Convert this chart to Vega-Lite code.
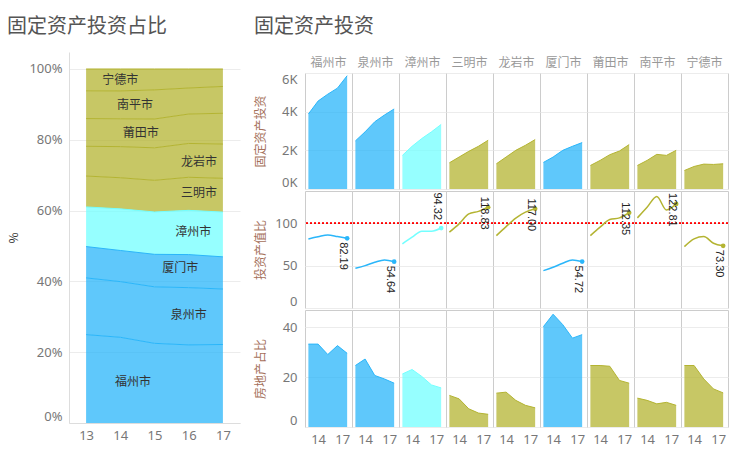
{
  "$schema": "https://vega.github.io/schema/vega-lite/v6.json",
  "padding": {"left": 7, "top": 17, "right": 0, "bottom": 0},
  "background": "white",
  "config": {
    "font": "Noto Sans CJK SC",
    "view": {"stroke": "#cccccc"},
    "axis": {"labelFont": "Noto Sans", "labelColor": "#777777", "labelFontSize": 13, "ticks": false, "domain": false, "gridColor": "#ececec", "titleFont": "Noto Sans CJK SC", "titleFontWeight": "normal", "titleFontSize": 12, "titleColor": "#a5705a"},
    "title": {"font": "Noto Sans CJK SC", "fontSize": 20, "fontWeight": "normal", "color": "#555555", "anchor": "start", "frame": "bounds"}
  },
  "datasets": {
    "d": [
      {"city":"福州市","year":13,"inv":3878,"ratio":81.5,"re":33.3},
      {"city":"福州市","year":14,"inv":4550,"ratio":84,"re":33.3},
      {"city":"福州市","year":15,"inv":4904,"ratio":86.2,"re":29.1},
      {"city":"福州市","year":16,"inv":5217,"ratio":84.3,"re":32.7},
      {"city":"福州市","year":17,"inv":5860,"ratio":82.19,"re":29.6},
      {"city":"泉州市","year":13,"inv":2487,"ratio":46.9,"re":24.7},
      {"city":"泉州市","year":14,"inv":2956,"ratio":50,"re":27.3},
      {"city":"泉州市","year":15,"inv":3478,"ratio":53.9,"re":20.7},
      {"city":"泉州市","year":16,"inv":3826,"ratio":56.7,"re":19.3},
      {"city":"泉州市","year":17,"inv":4139,"ratio":54.64,"re":17.6},
      {"city":"漳州市","year":13,"inv":1739,"ratio":75.6,"re":21.3},
      {"city":"漳州市","year":14,"inv":2209,"ratio":83.5,"re":23.1},
      {"city":"漳州市","year":15,"inv":2609,"ratio":90.6,"re":20.3},
      {"city":"漳州市","year":16,"inv":2956,"ratio":90.6,"re":16.9},
      {"city":"漳州市","year":17,"inv":3339,"ratio":94.32,"re":15.7},
      {"city":"三明市","year":13,"inv":1356,"ratio":89.4,"re":12.7},
      {"city":"三明市","year":14,"inv":1652,"ratio":99.2,"re":11.3},
      {"city":"三明市","year":15,"inv":1948,"ratio":111,"re":7.3},
      {"city":"三明市","year":16,"inv":2209,"ratio":114,"re":5.6},
      {"city":"三明市","year":17,"inv":2522,"ratio":118.83,"re":5.1},
      {"city":"龙岩市","year":13,"inv":1304,"ratio":85.4,"re":13.6},
      {"city":"龙岩市","year":14,"inv":1652,"ratio":96,"re":14},
      {"city":"龙岩市","year":15,"inv":2000,"ratio":106,"re":10.7},
      {"city":"龙岩市","year":16,"inv":2261,"ratio":113,"re":8.7},
      {"city":"龙岩市","year":17,"inv":2556,"ratio":117.0,"re":7.7},
      {"city":"厦门市","year":13,"inv":1374,"ratio":44.1,"re":40.3},
      {"city":"厦门市","year":14,"inv":1652,"ratio":48,"re":45.3},
      {"city":"厦门市","year":15,"inv":2000,"ratio":52.8,"re":41.1},
      {"city":"厦门市","year":16,"inv":2209,"ratio":56.7,"re":35.7},
      {"city":"厦门市","year":17,"inv":2400,"ratio":54.72,"re":37.1},
      {"city":"莆田市","year":13,"inv":1217,"ratio":85.4,"re":24.7},
      {"city":"莆田市","year":14,"inv":1478,"ratio":95.3,"re":24.7},
      {"city":"莆田市","year":15,"inv":1774,"ratio":104.3,"re":24.4},
      {"city":"莆田市","year":16,"inv":1965,"ratio":106.3,"re":18.7},
      {"city":"莆田市","year":17,"inv":2296,"ratio":112.35,"re":17.6},
      {"city":"南平市","year":13,"inv":1217,"ratio":106.3,"re":11.6},
      {"city":"南平市","year":14,"inv":1478,"ratio":118.9,"re":10.7},
      {"city":"南平市","year":15,"inv":1791,"ratio":131.5,"re":9.3},
      {"city":"南平市","year":16,"inv":1739,"ratio":115.7,"re":9.9},
      {"city":"南平市","year":17,"inv":2000,"ratio":122.81,"re":8.7},
      {"city":"宁德市","year":13,"inv":957,"ratio":72.4,"re":24.7},
      {"city":"宁德市","year":14,"inv":1165,"ratio":81.5,"re":24.7},
      {"city":"宁德市","year":15,"inv":1287,"ratio":84.3,"re":19.3},
      {"city":"宁德市","year":16,"inv":1270,"ratio":76.4,"re":15.3},
      {"city":"宁德市","year":17,"inv":1304,"ratio":73.3,"re":13.7}
    ],
    "rank": [
      {"city":"福州市","k":1},{"city":"泉州市","k":2},{"city":"厦门市","k":3},
      {"city":"漳州市","k":4},{"city":"三明市","k":5},{"city":"龙岩市","k":6},
      {"city":"莆田市","k":7},{"city":"南平市","k":8},{"city":"宁德市","k":9}
    ],
    "lab": [
      {"city":"宁德市","year":14.0,"pos":0.969},
      {"city":"南平市","year":14.43,"pos":0.898},
      {"city":"莆田市","year":14.6,"pos":0.819},
      {"city":"龙岩市","year":16.3,"pos":0.737},
      {"city":"三明市","year":16.3,"pos":0.650},
      {"city":"漳州市","year":16.13,"pos":0.540},
      {"city":"厦门市","year":15.75,"pos":0.438},
      {"city":"泉州市","year":16.0,"pos":0.305},
      {"city":"福州市","year":14.37,"pos":0.116}
    ]
  },
  "spacing": 14,
  "hconcat": [
    {
      "title": {"text": "固定资产投资占比", "offset": 15},
      "vconcat": [
        {
          "width": 171,
          "height": 371,
          "view": {"stroke": null},
          "layer": [
            {
              "data": {"name": "d"},
              "transform": [{"lookup": "city", "from": {"data": {"name": "rank"}, "key": "city", "fields": ["k"]}}],
              "mark": {"type": "area", "fillOpacity": 0.75, "line": {"strokeWidth": 1}},
              "encoding": {
                "x": {"field": "year", "type": "quantitative", "scale": {"domain": [12.5, 17.5], "nice": false, "zero": false},
                      "axis": {"values": [13,14,15,16,17], "format": "d", "title": null, "grid": false, "domain": true, "domainColor": "#dddddd", "labelPadding": 6}},
                "y": {"field": "inv", "type": "quantitative", "stack": "normalize", "scale": {"domain": [0, 1.048], "nice": false},
                      "axis": {"values": [0,0.2,0.4,0.6,0.8,1], "format": ".0%", "title": "%", "titleColor": "#333333", "titleFontSize": 12, "labelFlush": true, "domain": true, "domainColor": "#dddddd", "labelPadding": 7, "minExtent": 40, "maxExtent": 40, "titlePadding": 9}},
                "order": {"field": "k", "type": "quantitative"},
                "color": {"field": "city", "type": "nominal",
                          "scale": {"domain": ["福州市","泉州市","厦门市","漳州市","三明市","龙岩市","莆田市","南平市","宁德市"], "range": ["#2ab6fa","#2ab6fa","#2ab6fa","#73ffff","#b4b432","#b4b432","#b4b432","#b4b432","#b4b432"]},
                          "legend": null}
              }
            },
            {
              "data": {"name": "lab"},
              "mark": {"type": "text", "font": "Noto Sans CJK SC", "fontSize": 12, "color": "#333333"},
              "encoding": {
                "x": {"field": "year", "type": "quantitative"},
                "y": {"field": "pos", "type": "quantitative"},
                "text": {"field": "city"}
              }
            }
          ]
        }
      ]
    },
    {
      "title": {"text": "固定资产投资", "offset": 15},
      "spacing": 0,
      "vconcat": [
        {
          "width": 47,
          "height": 5,
          "view": {"stroke": null},
          "data": {"values": []},
          "mark": {"type": "rule"},
          "encoding": {}
        },
        {
          "data": {"name": "d"},
          "facet": {"column": {"field": "city", "type": "nominal", "sort": ["福州市","泉州市","漳州市","三明市","龙岩市","厦门市","莆田市","南平市","宁德市"],
                    "header": {"title": null, "labelFont": "Noto Sans CJK SC", "labelFontSize": 12, "labelColor": "#999999", "labelPadding": 3}}},
          "spacing": {"column": 0},
          "bounds": "flush",
          "spec": {
            "width": 47,
            "height": 116,
            "mark": {"type": "area", "fillOpacity": 0.75, "line": {"strokeWidth": 1}},
            "encoding": {
              "x": {"field": "year", "type": "quantitative", "scale": {"domain": [12.65, 17.5], "nice": false, "zero": false}, "axis": null},
              "y": {"field": "inv", "type": "quantitative", "scale": {"domain": [0, 6000], "nice": false},
                    "axis": {"title": "固定资产投资", "values": [0,2000,4000,6000], "labelExpr": "datum.value/1000 + 'K'", "labelFlush": true, "labelPadding": 8, "minExtent": 28, "maxExtent": 28, "titlePadding": 10}},
              "color": {"field": "city", "type": "nominal",
                        "scale": {"domain": ["福州市","泉州市","厦门市","漳州市","三明市","龙岩市","莆田市","南平市","宁德市"], "range": ["#2ab6fa","#2ab6fa","#2ab6fa","#73ffff","#b4b432","#b4b432","#b4b432","#b4b432","#b4b432"]},
                        "legend": null}
            }
          }
        },
        {
          "data": {"name": "d"},
          "facet": {"column": {"field": "city", "type": "nominal", "sort": ["福州市","泉州市","漳州市","三明市","龙岩市","厦门市","莆田市","南平市","宁德市"],
                    "header": {"title": null, "labels": false}}},
          "spacing": {"column": 0},
          "bounds": "flush",
          "spec": {
            "width": 47,
            "height": 117,
            "encoding": {
              "x": {"field": "year", "type": "quantitative", "scale": {"domain": [12.65, 17.5], "nice": false, "zero": false}, "axis": null},
              "y": {"field": "ratio", "type": "quantitative", "scale": {"domain": [0, 138], "nice": false},
                    "axis": {"title": "投资产值比", "values": [0,50,100], "labelFlush": true, "labelPadding": 8, "minExtent": 28, "maxExtent": 28, "titlePadding": 10}},
              "color": {"field": "city", "type": "nominal",
                        "scale": {"domain": ["福州市","泉州市","厦门市","漳州市","三明市","龙岩市","莆田市","南平市","宁德市"], "range": ["#2ab6fa","#2ab6fa","#2ab6fa","#73ffff","#b4b432","#b4b432","#b4b432","#b4b432","#b4b432"]},
                        "legend": null}
            },
            "layer": [
              {"mark": {"type": "rule", "color": "#ff0000", "strokeDash": [2, 2], "strokeWidth": 1}, "encoding": {"y": {"datum": 100}, "x": null, "color": null}},
              {"mark": {"type": "line", "interpolate": "monotone", "strokeWidth": 1.5}},
              {"transform": [{"filter": "datum.year == 17"}], "mark": {"type": "point", "filled": true, "size": 22, "opacity": 1}},
              {"transform": [{"filter": "datum.year == 17 && datum.ratio < 90"}],
               "mark": {"type": "text", "angle": 90, "align": "left", "baseline": "middle", "dx": 4, "dy": 4, "font": "Liberation Sans", "fontSize": 11, "color": "#222222", "clip": true},
               "encoding": {"text": {"field": "ratio", "type": "quantitative", "format": ".2f"}, "color": null}},
              {"transform": [{"filter": "datum.year == 17 && datum.ratio >= 90 && datum.ratio < 100"}],
               "mark": {"type": "text", "angle": 90, "align": "right", "baseline": "middle", "dx": -8, "dy": 4, "font": "Liberation Sans", "fontSize": 11, "color": "#222222", "clip": true},
               "encoding": {"text": {"field": "ratio", "type": "quantitative", "format": ".2f"}, "color": null}},
              {"transform": [{"filter": "datum.year == 17 && datum.ratio >= 100"}],
               "mark": {"type": "text", "angle": 90, "align": "center", "baseline": "middle", "dx": 6, "dy": 4, "font": "Liberation Sans", "fontSize": 11, "color": "#222222", "clip": true},
               "encoding": {"text": {"field": "ratio", "type": "quantitative", "format": ".2f"}, "color": null}}
            ]
          }
        },
        {
          "data": {"name": "d"},
          "facet": {"column": {"field": "city", "type": "nominal", "sort": ["福州市","泉州市","漳州市","三明市","龙岩市","厦门市","莆田市","南平市","宁德市"],
                    "header": {"title": null, "labels": false}}},
          "spacing": {"column": 0},
          "bounds": "flush",
          "spec": {
            "width": 47,
            "height": 117,
            "mark": {"type": "area", "fillOpacity": 0.75, "line": {"strokeWidth": 1}},
            "encoding": {
              "x": {"field": "year", "type": "quantitative", "scale": {"domain": [12.65, 17.5], "nice": false, "zero": false},
                    "axis": {"values": [14, 17], "format": "d", "title": null, "grid": false, "labelPadding": 6, "labelOffset": {"condition": {"test": "datum.value == 17", "value": -5}, "value": 0}}},
              "y": {"field": "re", "type": "quantitative", "scale": {"domain": [0, 47], "nice": false},
                    "axis": {"title": "房地产占比", "values": [0,20,40], "labelFlush": true, "labelPadding": 8, "minExtent": 28, "maxExtent": 28, "titlePadding": 10}},
              "color": {"field": "city", "type": "nominal",
                        "scale": {"domain": ["福州市","泉州市","厦门市","漳州市","三明市","龙岩市","莆田市","南平市","宁德市"], "range": ["#2ab6fa","#2ab6fa","#2ab6fa","#73ffff","#b4b432","#b4b432","#b4b432","#b4b432","#b4b432"]},
                        "legend": null}
            }
          }
        }
      ]
    }
  ]
}
